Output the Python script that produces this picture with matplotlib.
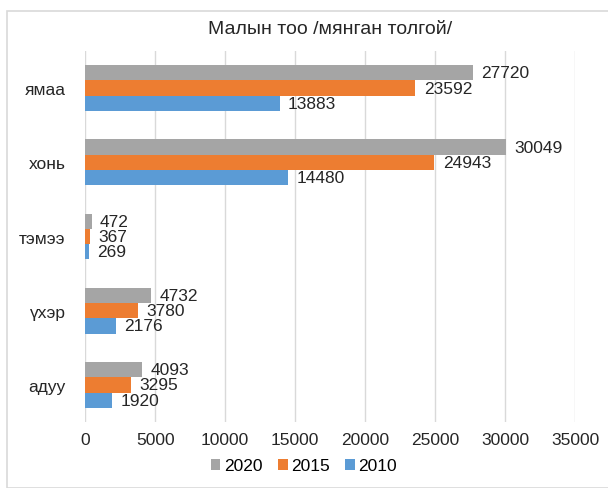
import matplotlib.pyplot as plt
from matplotlib.patches import Rectangle
import numpy as np

categories = ['адуу', 'үхэр', 'тэмээ', 'хонь', 'ямаа']
years = ['2020', '2015', '2010']
v2020 = [4093, 4732, 472, 30049, 27720]
v2015 = [3295, 3780, 367, 24943, 23592]
v2010 = [1920, 2176, 269, 14480, 13883]
colors = ['#A5A5A5', '#ED7D31', '#5B9BD5']

plt.rcParams['font.family'] = ['Liberation Sans', 'DejaVu Sans']

fig = plt.figure(figsize=(6.08, 4.89), dpi=100)
ax = fig.add_axes([0.14, 1 - 423 / 489, 0.806, 371 / 489])

# outer chart frame
fig.patches.append(Rectangle((7 / 608, 0), 1, 1 - 12 / 489, transform=fig.transFigure,
                             fill=False, edgecolor='#D9D9D9', linewidth=1.2))

y = np.arange(len(categories))
h = 0.205
series = [v2020, v2015, v2010]
offsets = [h, 0, -h]
for vals, off, c, lab in zip(series, offsets, colors, years):
    bars = ax.barh(y + off, vals, height=h, color=c, label=lab, zorder=3)
    ax.bar_label(bars, labels=[str(v) for v in vals], padding=6, fontsize=12.5, color='#262626')

ax.set_xlim(0, 35000)
ax.set_ylim(-0.5, 4.5)
ax.set_xticks(np.arange(0, 35001, 5000))
ax.set_yticks(y)
ax.set_yticklabels(categories)
ax.tick_params(axis='both', length=0, labelsize=12.5, colors='#262626')
ax.tick_params(axis='y', pad=14)
ax.tick_params(axis='x', pad=7)
ax.grid(axis='x', color='#D9D9D9', linewidth=1, zorder=0)
for s in ax.spines.values():
    s.set_visible(False)

ax.set_title('Малын тоо /мянган толгой/', fontsize=14, color='#262626', pad=13)

fig.legend(*ax.get_legend_handles_labels(), loc='center', bbox_to_anchor=(0.5, 1 - 467 / 489),
           ncol=3, frameon=False, fontsize=12.5, handlelength=0.55, handleheight=0.55,
           handletextpad=0.2, columnspacing=0.9, borderaxespad=0, borderpad=0)

fig.savefig('out.png', dpi=100)
